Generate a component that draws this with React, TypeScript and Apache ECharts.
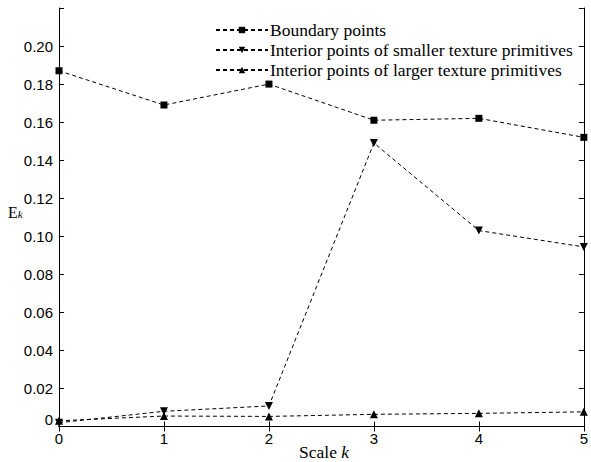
import React, { useEffect, useRef } from "react";
import * as echarts from "echarts";

const scales = ["0", "1", "2", "3", "4", "5"];
const boundaryPoints = [0.187, 0.169, 0.180, 0.161, 0.162, 0.152];
const smallerInterior = [0.002, 0.008, 0.0108, 0.149, 0.103, 0.0944];
const largerInterior = [0.003, 0.0055, 0.0053, 0.0064, 0.0069, 0.0077];
const seriesNames = [
  "Boundary points",
  "Interior points of smaller texture primitives",
  "Interior points of larger texture primitives",
];

const tickFont = "'Liberation Sans', Arial, sans-serif";
const serif = "'Liberation Serif', 'Times New Roman', serif";

export default function App() {
  const ref = useRef<HTMLDivElement>(null);
  useEffect(() => {
    document.body.style.margin = "0";
    document.body.style.overflow = "hidden";
    if (!ref.current) return;
    const chart = echarts.init(ref.current, null, { renderer: "svg" });
    const axisLine = { show: true, lineStyle: { color: "#000", width: 1 } };
    const tick = { show: true, inside: true, length: 5, lineStyle: { color: "#000" } };
    const mk = (name: string, data: number[], symbol: string, rot: number, size: number) => ({
      name,
      type: "line",
      data,
      symbol,
      symbolSize: size,
      symbolRotate: rot,
      showSymbol: true,
      itemStyle: { color: "#000" },
      lineStyle: { color: "#000", width: 1, type: [4, 3] },
    });
    chart.setOption({
      animation: false,
      backgroundColor: "#fff",
      grid: { left: 59, top: 8, right: 2, bottom: 35.5, containLabel: false },
      legend: {
        orient: "vertical",
        left: 215,
        top: 21,
        padding: 0,
        itemWidth: 52,
        itemHeight: 8,
        itemGap: 2,
        data: seriesNames,
        textStyle: { fontFamily: serif, fontSize: 17.5, color: "#000", padding: [0, 0, 0, -3] },
        symbolRotate: "inherit",
      },
      xAxis: [
        {
          type: "category",
          data: scales,
          boundaryGap: false,
          axisLine,
          axisTick: tick,
          axisLabel: { fontFamily: tickFont, fontSize: 15, color: "#000", margin: 4 },
          splitLine: { show: false },
        },
        {
          type: "category",
          data: scales,
          boundaryGap: false,
          position: "top",
          axisLine,
          axisTick: tick,
          axisLabel: { show: false },
          splitLine: { show: false },
        },
      ],
      yAxis: [
        {
          type: "value",
          min: 0,
          max: 0.22,
          interval: 0.02,
          axisLine,
          axisTick: tick,
          axisLabel: {
            fontFamily: tickFont,
            fontSize: 15,
            color: "#000",
            margin: 6,
            formatter: (v: number) => {
              if (Math.abs(v) < 1e-9) return "{z|0}";
              if (v > 0.2101) return "";
              return v.toFixed(2);
            },
            rich: { z: { fontFamily: tickFont, fontSize: 15, color: "#000", padding: [0, 0, 14, 0] } },
          },
          splitLine: { show: false },
        },
        {
          type: "value",
          min: 0,
          max: 0.22,
          interval: 0.02,
          position: "right",
          axisLine,
          axisTick: tick,
          axisLabel: { show: false },
          splitLine: { show: false },
        },
      ],
      series: [
        mk(seriesNames[0], boundaryPoints, "rect", 0, 7),
        mk(seriesNames[1], smallerInterior, "triangle", 180, 8),
        mk(seriesNames[2], largerInterior, "triangle", 0, 8),
      ],
      graphic: [
        {
          type: "text",
          left: 8,
          top: 204,
          style: {
            text: "{e|E}{k|k}",
            rich: {
              e: { fontFamily: serif, fontSize: 16, fill: "#000" },
              k: { fontFamily: serif, fontSize: 11, fontStyle: "italic", fill: "#000", padding: [4, 0, 0, 0] },
            },
          },
        },
        {
          type: "text",
          left: 299,
          top: 443,
          style: {
            text: "{a|Scale }{k|k}",
            rich: {
              a: { fontFamily: serif, fontSize: 17.5, fill: "#000" },
              k: { fontFamily: serif, fontSize: 17.5, fontStyle: "italic", fill: "#000" },
            },
          },
        },
      ],
    });
    return () => chart.dispose();
  }, []);
  return <div ref={ref} style={{ width: 591, height: 462 }} />;
}
